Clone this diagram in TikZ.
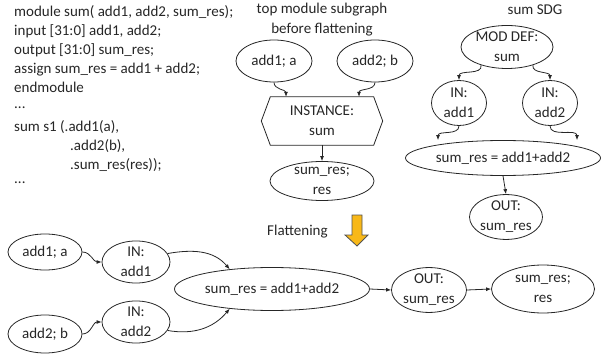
\documentclass[tikz,border=0pt]{standalone}
\usepackage{fontspec}
\setmainfont{Carlito}
\usetikzlibrary{shapes.geometric,arrows.meta}
\definecolor{ink}{HTML}{262626}
\definecolor{flatyellow}{HTML}{F8B818}
\begin{document}
\begin{tikzpicture}[x=1pt,y=-1pt,
  every node/.style={text=ink,font=\fontsize{15}{20}\selectfont},
  ell/.style={draw=ink,line width=0.8pt,ellipse,inner sep=0pt,align=center},
  code/.style={anchor=base west,inner sep=0pt,font=\fontsize{15}{19}\selectfont},
  title/.style={align=center,inner sep=0pt,font=\fontsize{15}{20}\selectfont},
  conn/.style={draw=ink,line width=0.8pt,-{Latex[length=5pt,width=4pt]}}]
\useasboundingbox (0,0) rectangle (602,358);
% code
\node[code] (c1) at (14,17) {module sum( add1, add2, sum\_res);};
\node[code] (c2) at (14,36) {input [31:0] add1, add2;};
\node[code] (c3) at (14,55) {output [31:0] sum\_res;};
\node[code] (c4) at (14,74) {assign sum\_res = add1 + add2;};
\node[code] (c5) at (14,93) {endmodule};
\node[code] (c6) at (14,109) {...};
\node[code] (c7) at (14,132) {sum s1 (.add1(a),};
\node[code] (c8) at (70,151) {.add2(b),};
\node[code] (c9) at (70,170) {.sum\_res(res));};
\node[code] (c10) at (14,184) {...};
% titles
\node[title] (t1) at (322,20) {top module subgraph\\before flattening};
\node[title] (t2) at (535,10) {sum SDG};
% top subgraph
\node[ell,minimum width=76pt,minimum height=42pt] (a1) at (274,61) {add1; a};
\node[ell,minimum width=76pt,minimum height=42pt] (a2) at (375,61) {add2; b};
\node[align=center,inner sep=0pt,minimum width=103pt,minimum height=48pt] (inst) at (322,121) {INSTANCE:\\sum};
\draw[ink,line width=0.8pt] (inst.north west) -- (inst.north east) -- ([xshift=9pt]inst.east) -- (inst.south east) -- (inst.south west) -- ([xshift=-9pt]inst.west) -- cycle;
\node[ell,minimum width=104pt,minimum height=39pt] (sr1) at (322,181) {sum\_res;\\res};
\draw[conn] (a1.south) to[out=-90,in=90] ([xshift=-36pt]inst.north);
\draw[conn] (a2.south) to[out=-90,in=90] ([xshift=37pt]inst.north);
\draw[conn] (inst.south) -- (sr1.north);
% sum SDG
\node[ell,minimum width=92pt,minimum height=43pt] (md) at (507,47) {MOD DEF:\\sum};
\node[ell,minimum width=55pt,minimum height=45pt] (in1) at (459,103) {IN:\\add1};
\node[ell,minimum width=55pt,minimum height=45pt] (in2) at (550,103) {IN:\\add2};
\node[ell,minimum width=195pt,minimum height=35pt] (eq) at (503,158) {sum\_res = add1+add2};
\node[ell,minimum width=73pt,minimum height=40pt] (out) at (506,217) {OUT:\\sum\_res};
\draw[conn] (md.-145) to[out=-80,in=90] (in1.north);
\draw[conn] (md.-35) to[out=-100,in=90] (in2.north);
\draw[conn] (in1.south) to[out=-90,in=90] ([xshift=-65pt]eq.north);
\draw[conn] (in2.south) to[out=-90,in=90] ([xshift=74pt]eq.north);
\draw[conn] (eq.south) -- (out.north);
% flattening
\node[anchor=west,inner sep=0pt] (fl) at (267,232) {Flattening};
\draw[draw=ink!80,line width=0.8pt,fill=flatyellow] (352,215) -- (362,215) -- (362,235) -- (368,235) -- (357,246) -- (345,235) -- (352,235) -- cycle;
% bottom graph
\node[ell,minimum width=74pt,minimum height=36pt] (b1) at (45,252) {add1; a};
\node[ell,minimum width=74pt,minimum height=38pt] (b2) at (45,334) {add2; b};
\node[ell,minimum width=68pt,minimum height=41pt] (bi1) at (136,262) {IN:\\add1};
\node[ell,minimum width=68pt,minimum height=41pt] (bi2) at (136,322) {IN:\\add2};
\node[ell,minimum width=195pt,minimum height=43pt] (beq) at (272,289) {sum\_res = add1+add2};
\node[ell,minimum width=75pt,minimum height=44pt] (bout) at (429,290) {OUT:\\sum\_res};
\node[ell,minimum width=103pt,minimum height=48pt] (bsr) at (543,289) {sum\_res;\\res};
\draw[conn] (b1.east) to[out=0,in=180] (bi1.west);
\draw[conn] (b2.east) to[out=0,in=180] (bi2.west);
\draw[conn] (bi1.15) to[out=10,in=130] (beq.155);
\draw[conn] (bi2.-15) to[out=-10,in=-130] (beq.-155);
\draw[conn] (beq.east) -- (bout.west);
\draw[conn] (bout.east) -- (bsr.west);
\end{tikzpicture}
\end{document}
